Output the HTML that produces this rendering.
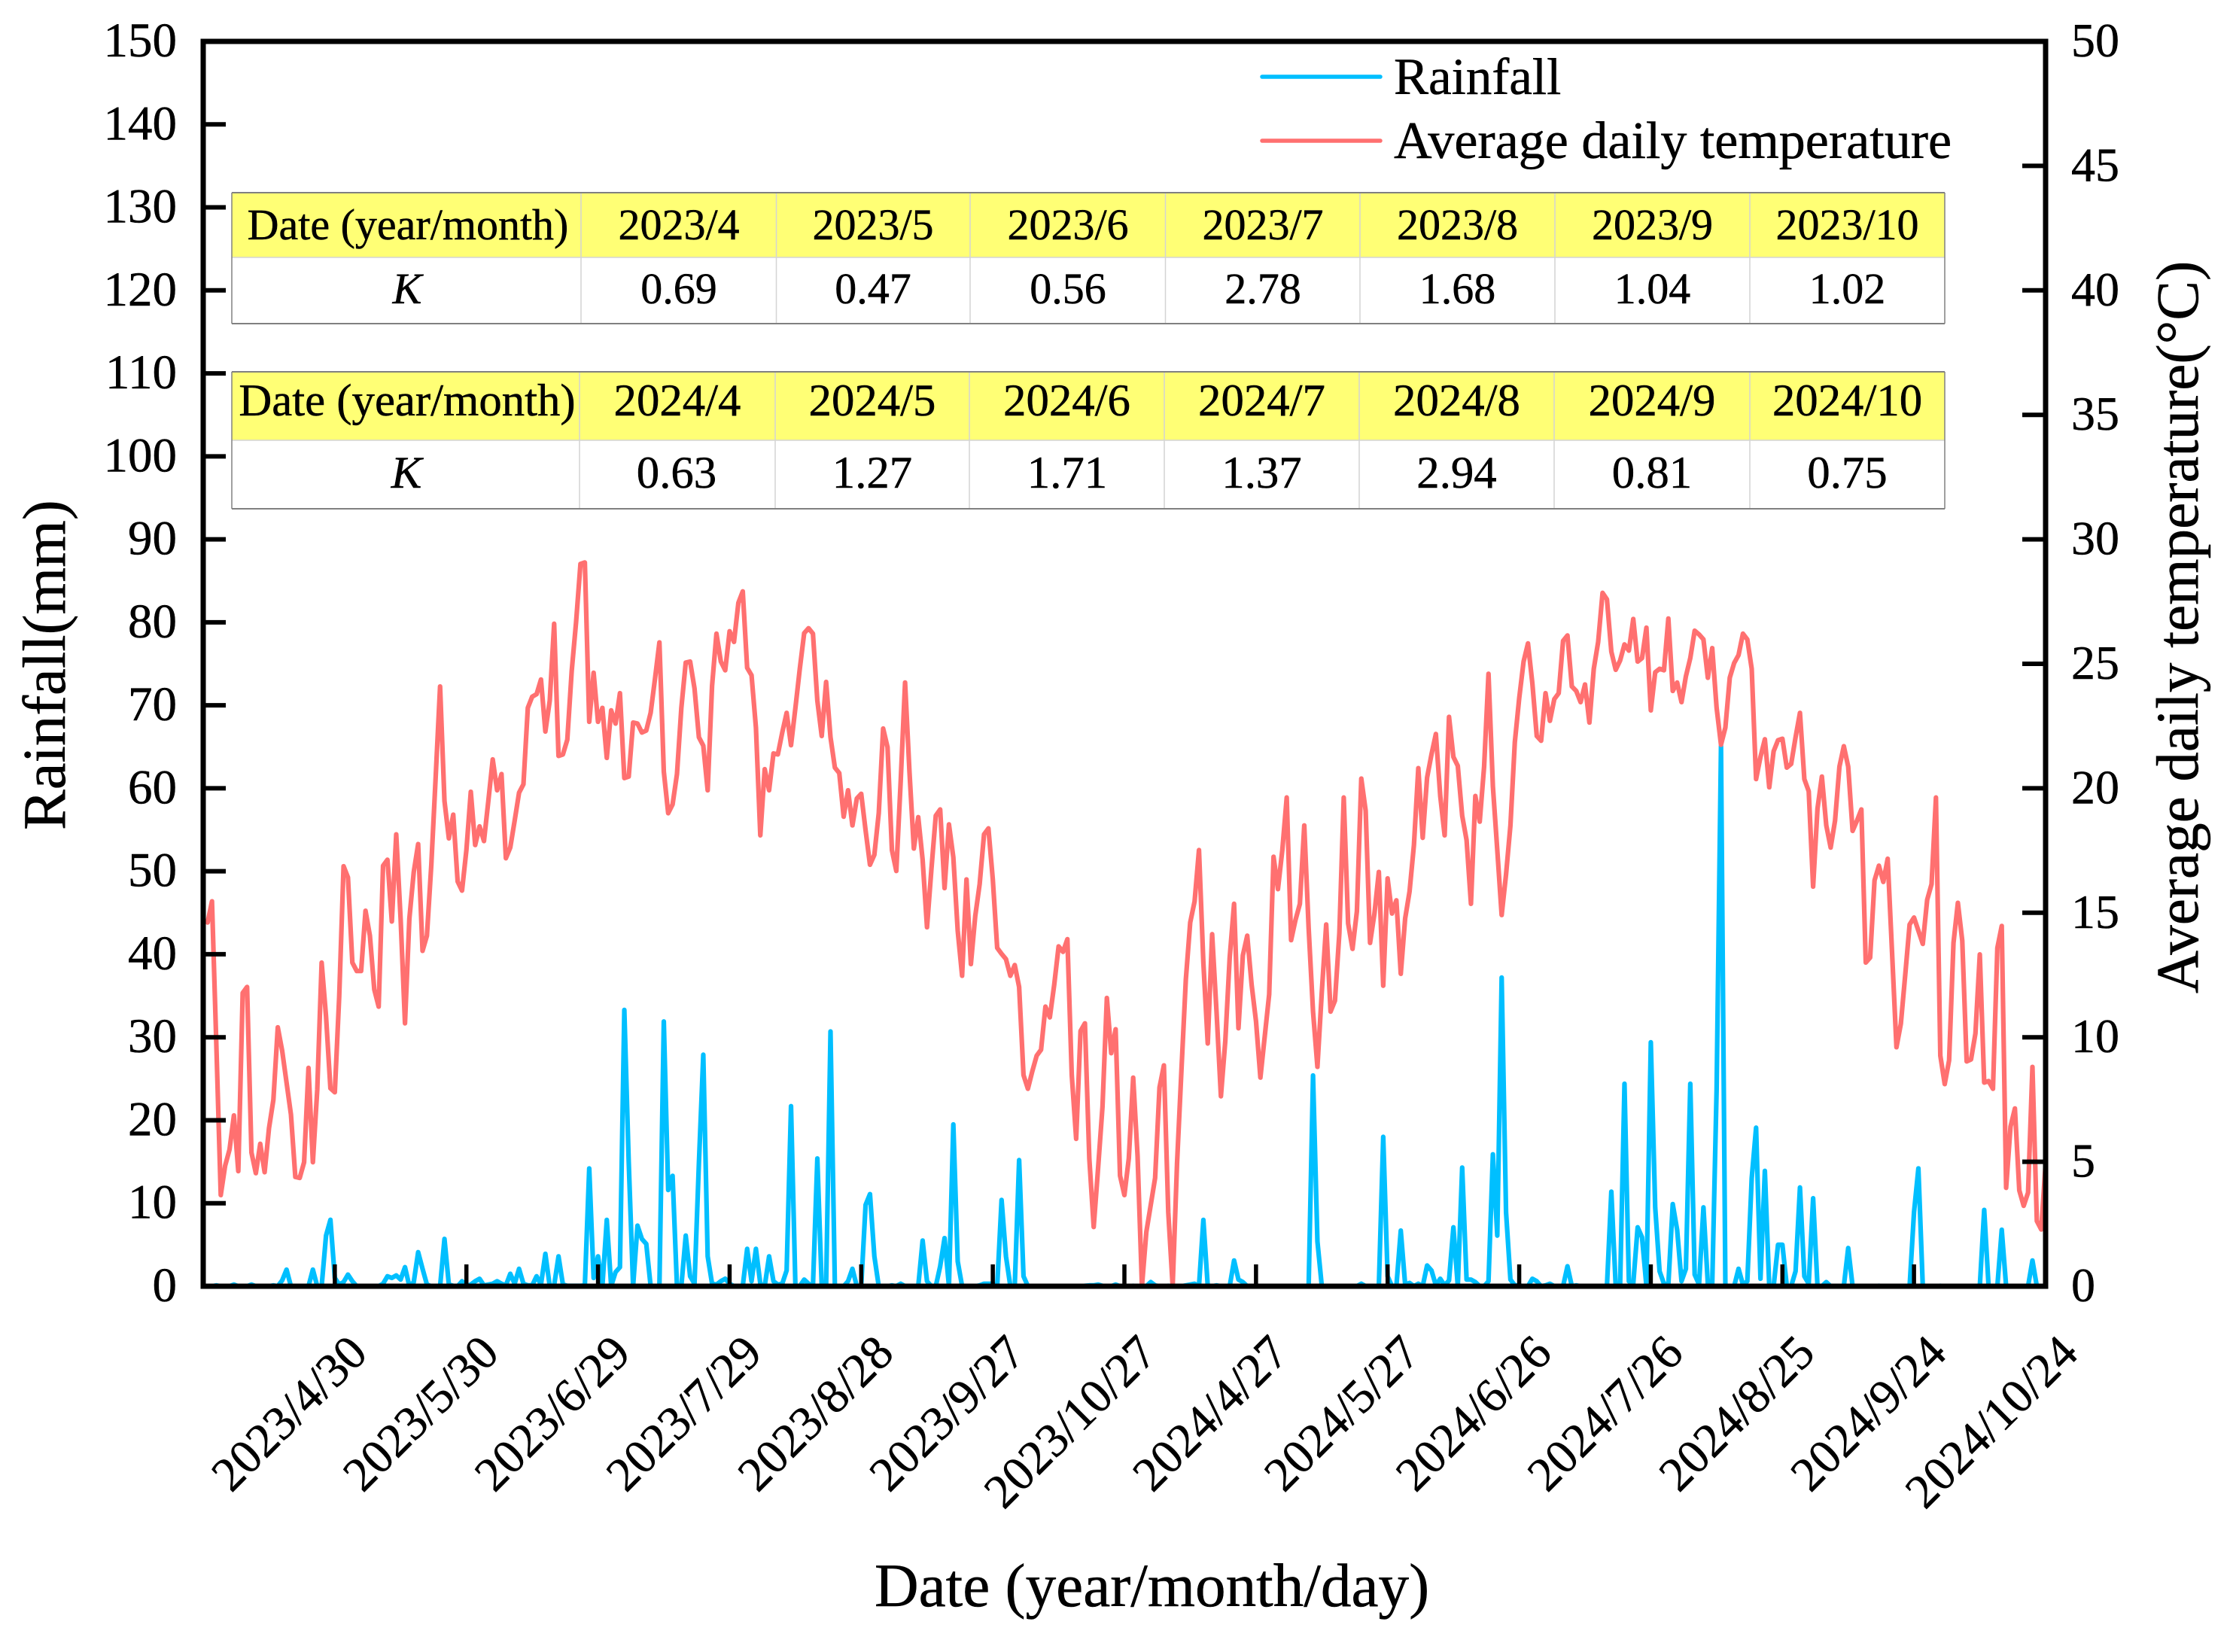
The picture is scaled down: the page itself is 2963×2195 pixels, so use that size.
<!DOCTYPE html>
<html lang="en">
<head>
<meta charset="utf-8">
<title>Rainfall and average daily temperature</title>
<style>
html,body{margin:0;padding:0;background:#fff;}
svg{display:block;font-family:"Liberation Serif",serif;fill:#000;}
text{stroke:#000;stroke-width:0.5px;}
</style>
</head>
<body>
<svg id="chart" xmlns="http://www.w3.org/2000/svg" width="2963" height="2195" viewBox="0 0 2963 2195">
<rect x="0" y="0" width="2963" height="2195" fill="#fff"/>
<g id="series"></g>
<g id="axes"></g>

<g>
<line x1="1677" x2="1834" y1="102" y2="102" stroke="#00BFFF" stroke-width="5.5" stroke-linecap="round"/>
<text x="1852" y="125" font-size="69">Rainfall</text>
<line x1="1677" x2="1834" y1="187" y2="187" stroke="#FF7070" stroke-width="5.5" stroke-linecap="round"/>
<text x="1852" y="210" font-size="70">Average daily temperature</text>
</g>

<g>
<rect x="308" y="256" width="2276" height="86" fill="#FFFF75"/>
<rect x="308" y="342" width="2276" height="88" fill="#fff"/>
<g stroke="#D4D4D4" stroke-width="1.5">
<line x1="308" x2="2584" y1="342" y2="342"/>
<line x1="772" x2="772" y1="256" y2="430"/><line x1="1031.5" x2="1031.5" y1="256" y2="430"/><line x1="1289" x2="1289" y1="256" y2="430"/><line x1="1548.5" x2="1548.5" y1="256" y2="430"/><line x1="1807" x2="1807" y1="256" y2="430"/><line x1="2066" x2="2066" y1="256" y2="430"/><line x1="2325" x2="2325" y1="256" y2="430"/>
</g>
<g stroke="#808080">
<line x1="308" x2="2584" y1="256" y2="256" stroke-width="2"/><line x1="308" x2="2584" y1="430" y2="430" stroke-width="2"/>
<line x1="308" x2="308" y1="256" y2="430" stroke-width="1.5"/><line x1="2584" x2="2584" y1="256" y2="430" stroke-width="1.5"/>
</g>
<g font-size="58" text-anchor="middle">
<text x="542" y="318">Date (year/month)</text>
<text x="902" y="318">2023/4</text>
<text x="1160" y="318">2023/5</text>
<text x="1419" y="318">2023/6</text>
<text x="1678" y="318">2023/7</text>
<text x="1936.5" y="318">2023/8</text>
<text x="2195.5" y="318">2023/9</text>
<text x="2454.5" y="318">2023/10</text>
<text x="541" y="403" font-style="italic">K</text>
<text x="902" y="403">0.69</text>
<text x="1160" y="403">0.47</text>
<text x="1419" y="403">0.56</text>
<text x="1678" y="403">2.78</text>
<text x="1936.5" y="403">1.68</text>
<text x="2195.5" y="403">1.04</text>
<text x="2454.5" y="403">1.02</text>
</g>
</g>

<g>
<rect x="308" y="494" width="2276" height="91" fill="#FFFF75"/>
<rect x="308" y="585" width="2276" height="91" fill="#fff"/>
<g stroke="#D4D4D4" stroke-width="1.5">
<line x1="308" x2="2584" y1="585" y2="585"/>
<line x1="770" x2="770" y1="494" y2="676"/><line x1="1030" x2="1030" y1="494" y2="676"/><line x1="1288" x2="1288" y1="494" y2="676"/><line x1="1547" x2="1547" y1="494" y2="676"/><line x1="1806" x2="1806" y1="494" y2="676"/><line x1="2065" x2="2065" y1="494" y2="676"/><line x1="2325" x2="2325" y1="494" y2="676"/>
</g>
<g stroke="#808080">
<line x1="308" x2="2584" y1="494" y2="494" stroke-width="2"/><line x1="308" x2="2584" y1="676" y2="676" stroke-width="2"/>
<line x1="308" x2="308" y1="494" y2="676" stroke-width="1.5"/><line x1="2584" x2="2584" y1="494" y2="676" stroke-width="1.5"/>
</g>
<g font-size="60.8" text-anchor="middle">
<text x="541" y="552">Date (year/month)</text>
<text x="900" y="552">2024/4</text>
<text x="1159" y="552">2024/5</text>
<text x="1417.5" y="552">2024/6</text>
<text x="1676.5" y="552">2024/7</text>
<text x="1935.5" y="552">2024/8</text>
<text x="2195" y="552">2024/9</text>
<text x="2454.5" y="552">2024/10</text>
<text x="540" y="648" font-style="italic">K</text>
<text x="899" y="648">0.63</text>
<text x="1159" y="648">1.27</text>
<text x="1418" y="648">1.71</text>
<text x="1676.5" y="648">1.37</text>
<text x="1935.5" y="648">2.94</text>
<text x="2195" y="648">0.81</text>
<text x="2454.5" y="648">0.75</text>
</g>
</g>

<text x="1162" y="2134" font-size="81.2">Date (year/month/day)</text>
<text transform="translate(86,1103) rotate(-90)" font-size="80.6">Rainfall(mm)</text>
<text transform="translate(2920,1320) rotate(-90)" font-size="79">Average daily temperature(°C)</text>
</svg>

<script>
const rainValues = [
0,0,.1,0,0,0,.2,0,0,0,
.2,0,0,0,0,.1,0,.7,2,0,
0,0,0,0,2,0,0,6.1,8,1,
.2,.5,1.4,.6,0,0,0,0,0,0,
.3,1.2,1,1.3,.8,2.3,0,.5,4.1,2.1,
.2,0,0,0,5.7,.2,.05,0,.6,0,
.2,.6,.9,.1,.2,.3,.6,.3,.1,1.5,
.3,2.1,.3,.1,.1,1.2,.2,3.9,0,.1,
3.6,.2,.05,.05,.05,.05,.1,14.2,1,3.6,
0,8,0,1.7,2.3,33.3,15,0,7.3,5.7,
5.1,0,0,0,31.9,11.6,13.3,0,0,6.1,
1.2,.3,14.8,27.9,3.6,.3,.2,.6,.9,.3,
0,0,0,4.5,.6,4.5,.3,0,3.6,.6,
.2,.3,1.9,21.7,0,0,.8,.3,0,15.4,
0,0,30.7,0,0,0,.6,2.1,0,0,
9.8,11.1,3.6,0,0,0,.1,0,.3,0,
0,0,0,5.5,.6,0,0,2.4,5.8,0,
19.5,3,0,0,0,0,.1,.3,.3,.3,
0,10.4,3.6,0,0,15.2,1.2,0,0,0,
0,0,0,0,0,0,0,0,0,0,
.05,.1,.1,.2,.05,0,0,.2,0,0,
0,.05,0,0,0,.5,.1,0,0,.05,
0,0,0,.1,.2,.3,0,8,0,0,
.1,0,0,0,3.1,.8,.5,0,0,0,
0,0,0,0,0,0,0,0,0,0,
0,0,25.4,5.4,0,0,0,0,0,0,
0,0,0,.3,0,0,0,0,18,1.2,
0,0,6.7,.2,.4,0,.3,0,2.5,1.9,
.1,.9,.1,.7,7.1,0,14.3,.8,.8,.5,
0,0,.6,15.9,6.1,37.2,8.9,.8,.1,.1,
0,0,.9,.6,0,.1,.3,0,0,0,
2.4,0,.1,0,0,0,0,0,0,0,
11.4,0,0,24.4,.6,.3,7.1,5.9,0,29.4,
9.5,1.8,.3,.2,9.9,6.8,.6,2.1,24.4,1.4,
.2,9.5,.3,.2,23.7,65.1,0,0,0,2.1,
.2,.6,13,19.1,.9,13.9,0,0,5,5,
0,0,1.8,11.9,1.2,.3,10.6,0,0,.5,
0,0,0,0,4.6,0,0,0,0,0,
0,.05,0,0,0,0,0,0,0,8.9,
14.2,0,0,0,0,.05,0,0,0,0,
0,0,0,0,0,9.2,0,0,0,6.8,
0,0,0,0,0,0,3.1,0,0,0
];
const temperatureValues = [
14.61,15.46,9.66,3.66,4.84,5.49,6.86,4.62,11.78,12.02,
5.37,4.54,5.72,4.58,6.35,7.49,10.40,9.46,8.18,6.90,
4.39,4.35,4.98,8.77,4.98,7.89,13.00,10.84,7.95,7.79,
11.62,16.87,16.42,13.00,12.66,12.66,15.08,14.08,11.92,11.23,
16.89,17.13,14.65,18.15,14.77,10.56,14.77,16.64,17.76,13.47,
14.08,16.93,20.47,24.09,19.49,17.99,18.94,16.26,15.89,17.52,
19.86,17.72,18.47,17.88,19.49,21.16,19.92,20.57,17.19,17.62,
18.70,19.82,20.16,23.23,23.68,23.78,24.37,22.28,23.52,26.61,
21.30,21.36,21.95,24.70,26.67,29.01,29.07,22.67,24.64,22.67,
23.23,21.22,23.13,22.60,23.82,20.41,20.47,22.64,22.60,22.24,
22.32,23.03,24.41,25.86,20.67,19.00,19.35,20.57,23.23,25.05,
25.09,24.01,22.05,21.71,19.92,24.11,26.21,25.09,24.74,26.31,
25.88,27.45,27.91,24.84,24.54,22.44,18.11,20.77,19.92,21.40,
21.36,22.24,23.03,21.73,23.23,24.80,26.23,26.43,26.21,23.52,
22.10,24.27,22.05,20.83,20.61,18.86,19.92,18.51,19.59,19.78,
18.31,16.93,17.33,19.00,22.40,21.65,17.52,16.68,20.28,24.25,
20.67,17.58,18.84,17.13,14.42,16.74,18.90,19.15,15.99,18.55,
17.23,14.28,12.47,16.34,12.94,14.87,16.15,18.15,18.39,16.34,
13.59,13.35,13.14,12.47,12.90,12.02,8.48,7.93,8.63,9.26,
9.50,11.23,10.80,12.11,13.65,13.43,13.94,8.48,5.92,10.25,
10.56,5.13,2.38,4.74,7.20,11.58,9.36,10.32,4.44,3.66,
5.13,8.38,5.23,0,2.18,3.26,4.35,7.98,8.87,2.97,
0,4.94,8.67,12.31,14.61,15.46,17.52,13.00,9.75,14.14,
11.03,7.63,9.85,13.20,15.36,10.36,13.29,14.08,12.11,10.64,
8.38,10.05,11.72,17.25,15.95,17.52,19.63,13.90,14.71,15.36,
18.51,14.38,11.03,8.81,11.82,14.53,11.03,11.47,14.18,19.63,
14.57,13.55,15.06,20.39,19.10,13.79,14.97,16.64,12.07,16.38,
14.97,15.50,12.55,14.77,15.85,17.72,20.81,18.01,20.43,21.36,
22.18,19.69,18.11,22.87,21.26,20.90,18.90,17.92,15.36,19.69,
18.66,20.87,24.60,20.08,17.52,14.91,16.54,18.51,21.85,23.62,
25.09,25.82,24.21,22.10,21.91,23.82,22.71,23.58,23.82,25.92,
26.14,24.09,23.91,23.46,24.17,22.64,24.80,25.88,27.85,27.59,
25.49,24.76,25.13,25.78,25.53,26.80,25.09,25.23,26.45,23.13,
24.66,24.80,24.74,26.82,23.91,24.25,23.46,24.50,25.23,26.33,
26.18,25.98,24.44,25.63,23.23,21.75,22.44,24.44,25.03,25.35,
26.21,25.98,24.80,20.37,21.26,21.97,20.04,21.49,21.93,21.99,
20.83,20.98,22.05,23.03,20.37,19.88,16.05,19.19,20.47,18.51,
17.62,18.70,20.87,21.69,20.87,18.29,18.70,19.15,13.00,13.20,
16.30,16.89,16.24,17.17,13.39,9.60,10.54,12.51,14.53,14.81,
14.28,13.75,15.52,16.15,19.63,9.26,8.12,9.07,13.79,15.40,
13.88,9.03,9.11,10.15,13.33,8.18,8.24,7.93,13.59,14.47,
3.95,6.41,7.14,3.85,3.23,3.76,8.81,2.62,2.28,4.94
];
const xTickLabels = ["2023/4/30","2023/5/30","2023/6/29","2023/7/29","2023/8/28","2023/9/27","2023/10/27","2024/4/27","2024/5/27","2024/6/26","2024/7/26","2024/8/25","2024/9/24","2024/10/24"];
const rainTicks = [0,10,20,30,40,50,60,70,80,90,100,110,120,130,140,150];
const temperatureTicks = [0,5,10,15,20,25,30,35,40,45,50];

const SVG_NS = "http://www.w3.org/2000/svg";
const plot = {left:270, right:2718, top:55, bottom:1709};
const pointsOnAxis = 420;
const rainMax = 150;
const temperatureMax = 50;
const tickEvery = 30;

function xScale(i){ return plot.left + (plot.right - plot.left) * i / pointsOnAxis; }
function rainScale(v){ return plot.bottom - (plot.bottom - plot.top) * v / rainMax; }
function temperatureScale(v){ return plot.bottom - (plot.bottom - plot.top) * v / temperatureMax; }
function make(tag, attrs, parent){
  const el = document.createElementNS(SVG_NS, tag);
  for (const k in attrs) el.setAttribute(k, attrs[k]);
  parent.appendChild(el);
  return el;
}
function linePath(values, scale){
  return values.map(function(v, i){
    return (i ? "L" : "M") + xScale(i + 1).toFixed(2) + " " + scale(v).toFixed(2);
  }).join("");
}

const seriesGroup = document.getElementById("series");
const axesGroup = document.getElementById("axes");

const rainLine = make("path", {d: linePath(rainValues, rainScale), fill:"none", stroke:"#00BFFF", "stroke-width":6.2, "stroke-linejoin":"round", "stroke-linecap":"round"}, seriesGroup);



const temperatureLine = make("path", {d: linePath(temperatureValues, temperatureScale), fill:"none", stroke:"#FF7070", "stroke-width":6.2, "stroke-linejoin":"round", "stroke-linecap":"round"}, seriesGroup);



const frame = make("rect", {x:plot.left, y:plot.top, width:plot.right-plot.left, height:plot.bottom-plot.top, fill:"none", stroke:"#000", "stroke-width":7}, axesGroup);



rainTicks.forEach(function(v){
  const y = rainScale(v);
  if (v !== 0 && v !== rainMax) {
    const t = make("line", {x1:plot.left, x2:plot.left+30, y1:y, y2:y, stroke:"#000", "stroke-width":6}, axesGroup);
    
    
  }
  const lab = make("text", {x:235, y:y+20, "font-size":65, "text-anchor":"end"}, axesGroup);
  lab.textContent = String(v);
  
  
});

temperatureTicks.forEach(function(v){
  const y = temperatureScale(v);
  if (v !== 0 && v !== temperatureMax) {
    const t = make("line", {x1:plot.right-31, x2:plot.right, y1:y, y2:y, stroke:"#000", "stroke-width":6}, axesGroup);
    
    
  }
  const lab = make("text", {x:2752, y:y+20, "font-size":64}, axesGroup);
  lab.textContent = String(v);
  
  
});

xTickLabels.forEach(function(label, k){
  const x = xScale((k + 1) * tickEvery);
  if (k < xTickLabels.length - 1) {
    const t = make("line", {x1:x, x2:x, y1:plot.bottom-29, y2:plot.bottom, stroke:"#000", "stroke-width":5.5}, axesGroup);
    
    
  }
  const ax = x + 46, ay = plot.bottom + 92;
  const lab = make("text", {x:0, y:0, "font-size":64, "text-anchor":"end", transform:"translate(" + ax + "," + ay + ") rotate(-45)"}, axesGroup);
  lab.textContent = label;
  
  
});
</script>
</body>
</html>
